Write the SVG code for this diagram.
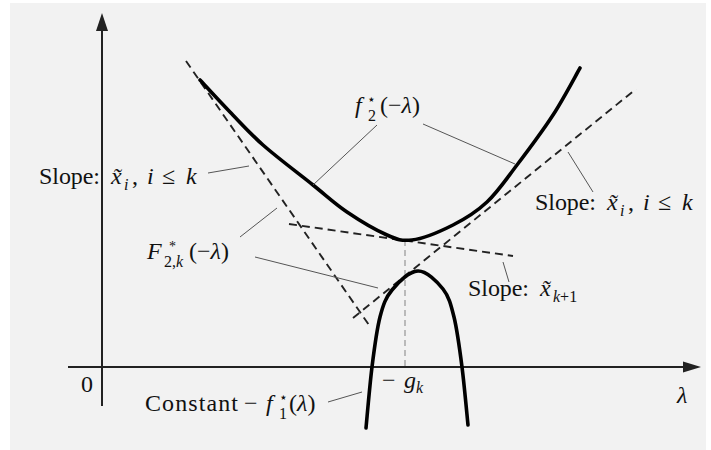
<svg xmlns="http://www.w3.org/2000/svg" width="711" height="450" viewBox="0 0 711 450">
<style>
.t{font-family:"Liberation Serif","Times New Roman","DejaVu Serif",serif;font-size:24px;fill:#111}
.i{font-style:italic}
.s{font-size:16px}
.sup{font-size:14px}
.axis{stroke:#222;stroke-width:2;fill:none}
.curve{stroke:#000;stroke-width:3.6;fill:none;stroke-linecap:round}
.tan{stroke:#222;stroke-width:1.9;fill:none;stroke-dasharray:8 5}
.lead{stroke:#555;stroke-width:1;fill:none}
.vdash{stroke:#a8a8a8;stroke-width:1.5;stroke-dasharray:6 4;fill:none}
</style>
<rect x="10" y="3" width="696" height="447" fill="#f2f2f2"/>
<g id="axes">
<line class="axis" x1="102" y1="406" x2="102" y2="28"/>
<polygon points="102,13 96,31 108,31" fill="#222"/>
<line class="axis" x1="68" y1="367" x2="686" y2="367"/>
<polygon points="701,367 683,361.5 683,372.5" fill="#222"/>
</g>
<g id="vertical-guide">
<line class="vdash" x1="405" y1="240" x2="405" y2="366"/>
</g>
<g id="tangents">
<line class="tan" x1="186" y1="61" x2="369" y2="325"/>
<line class="tan" x1="289" y1="224" x2="513" y2="256"/>
<line class="tan" x1="353" y1="318" x2="636" y2="89"/>
</g>
<g id="f2-curve">
<path class="curve" d="M200,80 C205,85.3 219.5,101.2 230,112 C240.5,122.8 249.2,132.8 263,145 C276.8,157.2 299,173.8 313,185 C327,196.2 334.7,203.7 347,212 C359.3,220.3 376.2,230.3 387,235 C397.8,239.7 401,241 412,240 C423,238.8 440.5,231.3 453,225 C465.5,218.7 476.3,212 487,202 C497.7,192 506,179.5 517,165 C528,150.5 542.5,131.2 553,115 C563.5,98.8 575.5,75.8 580,68"/>
</g>
<g id="f1-curve">
<path class="curve" d="M366,428 C367,417.8 369.7,385.5 372,367 C374.3,348.5 376.7,329.8 380,317 C383.3,304.2 385.7,297.7 392,290 C398.3,282.3 409.5,271.2 418,271 C426.5,270.8 437,281.3 443,289 C449,296.7 450.8,304 454,317 C457.2,330 459.7,349 462,367 C464.3,385 467,415.3 468,425"/>
</g>
<g id="connectors">
<line class="lead" x1="208" y1="173" x2="249" y2="166"/>
<line class="lead" x1="377" y1="125" x2="313" y2="185"/>
<line class="lead" x1="423" y1="124" x2="515" y2="164"/>
<line class="lead" x1="568" y1="152" x2="593" y2="192"/>
<line class="lead" x1="240" y1="237" x2="277" y2="208"/>
<line class="lead" x1="255" y1="257" x2="378" y2="288"/>
<line class="lead" x1="503" y1="262" x2="509" y2="282"/>
<line class="lead" x1="328" y1="402" x2="362" y2="392"/>
</g>
<g id="label-f2">
<text class="t"><tspan x="355" y="113" class="i">f</tspan><tspan x="367" y="104" class="sup">⋆</tspan><tspan x="368" y="121" class="s">2</tspan><tspan x="380" y="113">(−</tspan><tspan class="i">λ</tspan><tspan>)</tspan></text>
</g>
<g id="label-slope-left">
<text class="t"><tspan x="39" y="184" textLength="61">Slope:</tspan><tspan x="111" y="184" class="i">x̃</tspan><tspan x="124" y="190" class="s i">i</tspan><tspan x="132" y="184">,</tspan><tspan x="147" y="184" class="i">i</tspan><tspan x="162" y="184">≤</tspan><tspan x="186" y="184" class="i">k</tspan></text>
</g>
<g id="label-slope-right">
<text class="t"><tspan x="535" y="210" textLength="61">Slope:</tspan><tspan x="607" y="210" class="i">x̃</tspan><tspan x="620" y="216" class="s i">i</tspan><tspan x="628" y="210">,</tspan><tspan x="643" y="210" class="i">i</tspan><tspan x="658" y="210">≤</tspan><tspan x="682" y="210" class="i">k</tspan></text>
</g>
<g id="label-F2k">
<text class="t"><tspan x="147" y="259" class="i">F</tspan><tspan x="169" y="251" class="sup">*</tspan><tspan x="164" y="267" class="s">2,<tspan class="i">k</tspan></tspan><tspan x="189" y="259">(−</tspan><tspan class="i">λ</tspan><tspan>)</tspan></text>
</g>
<g id="label-slope-k1">
<text class="t"><tspan x="468" y="296" textLength="61">Slope:</tspan><tspan x="540" y="296" class="i">x̃</tspan><tspan x="553" y="302" class="s"><tspan class="i">k</tspan>+1</tspan></text>
</g>
<g id="label-constant">
<text class="t"><tspan x="145" y="411" textLength="93">Constant</tspan><tspan x="244" y="411">−</tspan><tspan x="266" y="411" class="i">f</tspan><tspan x="279" y="402" class="sup">⋆</tspan><tspan x="279" y="419" class="s">1</tspan><tspan x="289" y="411">(</tspan><tspan class="i">λ</tspan><tspan>)</tspan></text>
</g>
<g id="label-gk">
<text class="t"><tspan x="382" y="388">−</tspan><tspan x="404" y="388" class="i">g</tspan><tspan x="416" y="393" class="s i">k</tspan></text>
</g>
<g id="label-zero">
<text class="t" x="81" y="392">0</text>
</g>
<g id="label-lambda">
<text class="t i" x="677" y="403">λ</text>
</g>
</svg>
